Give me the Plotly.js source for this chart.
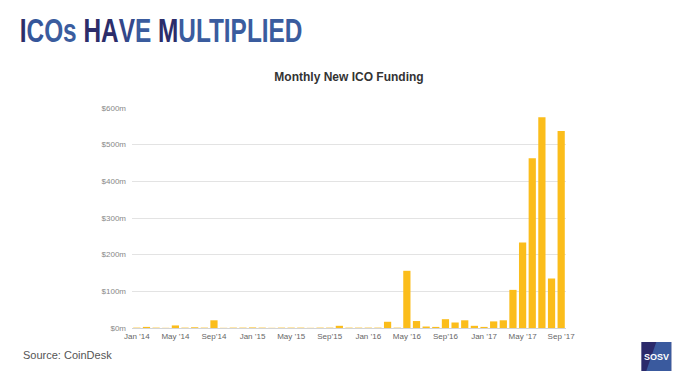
<!DOCTYPE html>
<html><head><meta charset="utf-8">
<script src="https://cdn.plot.ly/plotly-3.0.1.min.js"></script>
<style>html,body{margin:0;padding:0;background:#fff;}#chart{width:680px;height:382px;}</style>
</head><body><div id="chart"></div>
<script>
const months = ["2014-01","2014-02","2014-03","2014-04","2014-05","2014-06","2014-07","2014-08","2014-09","2014-10","2014-11","2014-12",
"2015-01","2015-02","2015-03","2015-04","2015-05","2015-06","2015-07","2015-08","2015-09","2015-10","2015-11","2015-12",
"2016-01","2016-02","2016-03","2016-04","2016-05","2016-06","2016-07","2016-08","2016-09","2016-10","2016-11","2016-12",
"2017-01","2017-02","2017-03","2017-04","2017-05","2017-06","2017-07","2017-08","2017-09"];
const funding = [1,3,1,0.5,7,1,2,1,21,0.5,1,1,
1.5,1,0.5,1,1,1,0.5,1,1,6,1,1,
1,1,17,1,156,19,4,3,24,15,21,6,
3,18,21,104,233,463,575,135,537];
const tickMonths = ["2014-01","2014-05","2014-09","2015-01","2015-05","2015-09","2016-01","2016-05","2016-09","2017-01","2017-05","2017-09"];
const tickLabels = ["Jan \u201914","May \u201914","Sep\u201914","Jan \u201915","May \u201915","Sep\u201915","Jan \u201916","May \u201916","Sep\u201916","Jan \u201917","May \u201917","Sep \u201917"];
const yTickVals = [0,100,200,300,400,500,600];
const yTickLabels = ["$0m","$100m","$200m","$300m","$400m","$500m","$600m"];

const L = 131.5, R = 566.5, T = 108, B = 328;
const px = x => (x - L) / (R - L);
const py = y => (B - y) / (B - T);

const headline = '<span style="color:#2c2d6a">I</span><span style="color:#35569a">C</span>' +
  '<span style="color:#3a5c9e">Os</span> <span style="color:#2c2d6a">HA</span><span style="color:#33478a">V</span>' +
  '<span style="color:#3a5c9e">E</span> <span style="color:#2c2d6a">M</span><span style="color:#3a5c9e">ULTIPLIED</span>';

const trace = {
  type: 'bar', x: months, y: funding,
  marker: {color: '#fbbd1b'}, hoverinfo: 'x+y'
};
const layout = {
  width: 680, height: 382,
  margin: {l: L, r: 680 - R, t: T, b: 382 - B, pad: 0},
  paper_bgcolor: '#fff', plot_bgcolor: '#fff',
  bargap: 0.25,
  showlegend: false,
  font: {family: 'Liberation Sans, Arial, sans-serif', color: '#777', size: 8},
  title: {text: '<b>Monthly New ICO Funding</b>', x: 0.5, xref: 'paper', y: 1 - 77/382, yanchor: 'middle',
          font: {size: 12, color: '#333', family: 'Liberation Sans, Arial, sans-serif'}},
  xaxis: {type: 'category', tickvals: tickMonths, ticktext: tickLabels, showgrid: false,
          showline: true, linecolor: '#d4d4d4', linewidth: 1, ticks: '', tickfont: {size: 8, color: '#666'},
          range: [-0.5, 44.5], fixedrange: true},
  yaxis: {range: [0, 600], tickvals: yTickVals, ticktext: yTickLabels, showgrid: true, gridcolor: '#e3e3e3',
          gridwidth: 1, zeroline: false, ticks: '', ticklabelstandoff: 5, tickfont: {size: 8, color: '#888'}, fixedrange: true},
  shapes: [
    {type: 'rect', xref: 'paper', yref: 'paper', x0: px(642), x1: px(672), y0: py(371), y1: py(342),
     fillcolor: '#2b2a6b', line: {width: 0}},
    {type: 'path', xref: 'paper', yref: 'paper',
     path: `M ${px(657)} ${py(342)} L ${px(672)} ${py(342)} L ${px(672)} ${py(371)} L ${px(647)} ${py(371)} Z`,
     fillcolor: '#3a5a9e', line: {width: 0}}
  ],
  annotations: [
    {text: headline, xref: 'paper', yref: 'paper', x: px(161), y: py(31), xanchor: 'center', yanchor: 'middle',
     showarrow: false, font: {family: 'Liberation Sans Narrow, Liberation Sans, Arial', size: 33, color: '#3a5c9e', weight: 'bold'}},
    {text: 'Source: CoinDesk', xref: 'paper', yref: 'paper', x: px(20), y: py(354.5), xanchor: 'left', yanchor: 'middle',
     showarrow: false, font: {family: 'Liberation Sans, Arial', size: 11, color: '#555'}},
    {text: '<b>SOSV</b>', xref: 'paper', yref: 'paper', x: px(657), y: py(357), xanchor: 'center', yanchor: 'middle',
     showarrow: false, font: {family: 'Liberation Sans Narrow, Liberation Sans, Arial', size: 9, color: '#fff'}}
  ]
};
Plotly.newPlot('chart', [trace], layout, {displayModeBar: false, staticPlot: true}).then(gd => {
  const t = gd.querySelector('.annotation .annotation-text');
  if (t) {
    const w = t.getBBox().width;
    const cx = parseFloat(t.getAttribute('x')) || 0;
    const sx = 281 / w;
    t.setAttribute('transform', `translate(${cx},0) scale(${sx},1) translate(${-cx},0)`);
  }
});
</script>
</body></html>
